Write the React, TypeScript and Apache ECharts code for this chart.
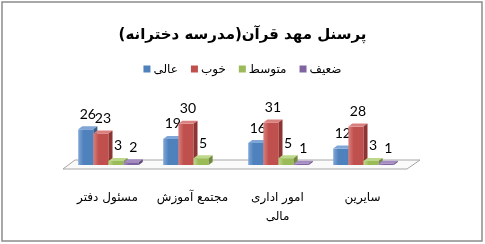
import React, { useEffect, useRef } from "react";
import * as echarts from "echarts";

const categories = ["مسئول دفتر", "مجتمع آموزش", "امور اداری\nمالی", "سایرین"];
const seriesNames = ["عالی", "خوب", "متوسط", "ضعیف"];
const excellent = [26, 19, 16, 12];
const good = [23, 30, 31, 28];
const average = [3, 5, 5, 3];
const weak: (number | null)[] = [2, null, 1, 1];
const colors = ["#4F81BD", "#C0504D", "#9BBB59", "#8064A2"];
const tops = ["#7FA6D6", "#D9807E", "#BDD88A", "#A48CC2"];
const sides = ["#385E8C", "#8E3432", "#718A3F", "#5C4777"];

const faFont = "DejaVu Sans";

export default function App() {
  const ref = useRef<HTMLDivElement>(null);
  useEffect(() => {
    if (!ref.current) return;
    const chart = echarts.init(ref.current, null, { renderer: "svg" });
    const allData = [excellent, good, average, weak];
    const dx = 4;
    const dy = 3;
    const makeSeries = (s: number) => ({
      type: "custom",
      name: seriesNames[s],
      z: 5 + s,
      itemStyle: { color: colors[s] },
      data: allData[s].map((v, i) => [i, v == null ? "-" : v]),
      renderItem: (params: any, api: any) => {
        const cat = api.value(0);
        const val = api.value(1);
        if (val == null || isNaN(val)) return null;
        const base = api.coord([cat, 0]);
        const top = api.coord([cat, val]);
        const band = api.size([1, 0])[0];
        const w = band * 0.178;
        const x0 = base[0] - (4 * w) / 2 + s * w + 1;
        const yt = top[1];
        const yb = base[1];
        return {
          type: "group",
          children: [
            {
              type: "rect",
              shape: { x: x0, y: yt, width: w, height: yb - yt },
              style: {
                fill: new echarts.graphic.LinearGradient(0, 0, 1, 0, [
                  { offset: 0, color: tops[s] },
                  { offset: 0.35, color: colors[s] },
                  { offset: 1, color: colors[s] },
                ]),
              },
            },
            {
              type: "polygon",
              shape: {
                points: [
                  [x0, yt],
                  [x0 + w, yt],
                  [x0 + w + dx, yt - dy],
                  [x0 + dx, yt - dy],
                ],
              },
              style: { fill: tops[s] },
            },
            {
              type: "polygon",
              shape: {
                points: [
                  [x0 + w, yt],
                  [x0 + w + dx, yt - dy],
                  [x0 + w + dx, yb - dy],
                  [x0 + w, yb],
                ],
              },
              style: { fill: sides[s] },
            },
            {
              type: "text",
              style: {
                text: String(val),
                x: x0 + w / 2 + 2,
                y: yt - 16,
                align: "center",
                verticalAlign: "middle",
                fontFamily: "Lato",
                fontSize: 14,
                fill: "#000",
              },
            },
          ],
        };
      },
    });

    chart.setOption({
      animation: false,
      title: {
        text: "پرسنل مهد قرآن(مدرسه دخترانه)",
        left: "center",
        top: 21,
        textStyle: { fontFamily: faFont, fontWeight: "bold", fontSize: 15, color: "#000" },
      },
      legend: {
        top: 58,
        left: "center",
        itemWidth: 7,
        itemHeight: 7,
        itemGap: 13,
        icon: "rect",
        data: seriesNames.map((n, i) => ({ name: n, itemStyle: { color: colors[i] } })),
        textStyle: { fontFamily: faFont, fontSize: 12, color: "#000", padding: [0, 0, 0, -2] },
      },
      grid: { left: 65, width: 340, top: 117, height: 48 },
      xAxis: {
        type: "category",
        data: categories,
        axisLine: { show: false },
        axisTick: { show: false },
        axisLabel: {
          margin: 22,
          fontFamily: faFont,
          fontSize: 12,
          color: "#000",
          lineHeight: 19,
          interval: 0,
        },
      },
      yAxis: { type: "value", min: 0, max: 35, show: false, splitLine: { show: false } },
      graphic: [
        {
          type: "rect",
          z: 0,
          shape: { x: 2, y: 2, width: 480, height: 239 },
          style: { fill: "#fff", stroke: "#8c8c8c", lineWidth: 1.5 },
        },
        {
          type: "polygon",
          z: 1,
          shape: { points: [[63, 169], [407, 169], [420, 160], [75, 160]] },
          style: { fill: "#fafafa", stroke: "#a6a6a6", lineWidth: 1 },
        },
      ],
      series: [0, 1, 2, 3].map(makeSeries),
    });
    return () => chart.dispose();
  }, []);
  return (
    <div
      ref={ref}
      style={{ position: "fixed", left: 0, top: 0, width: 485, height: 244 }}
    />
  );
}
